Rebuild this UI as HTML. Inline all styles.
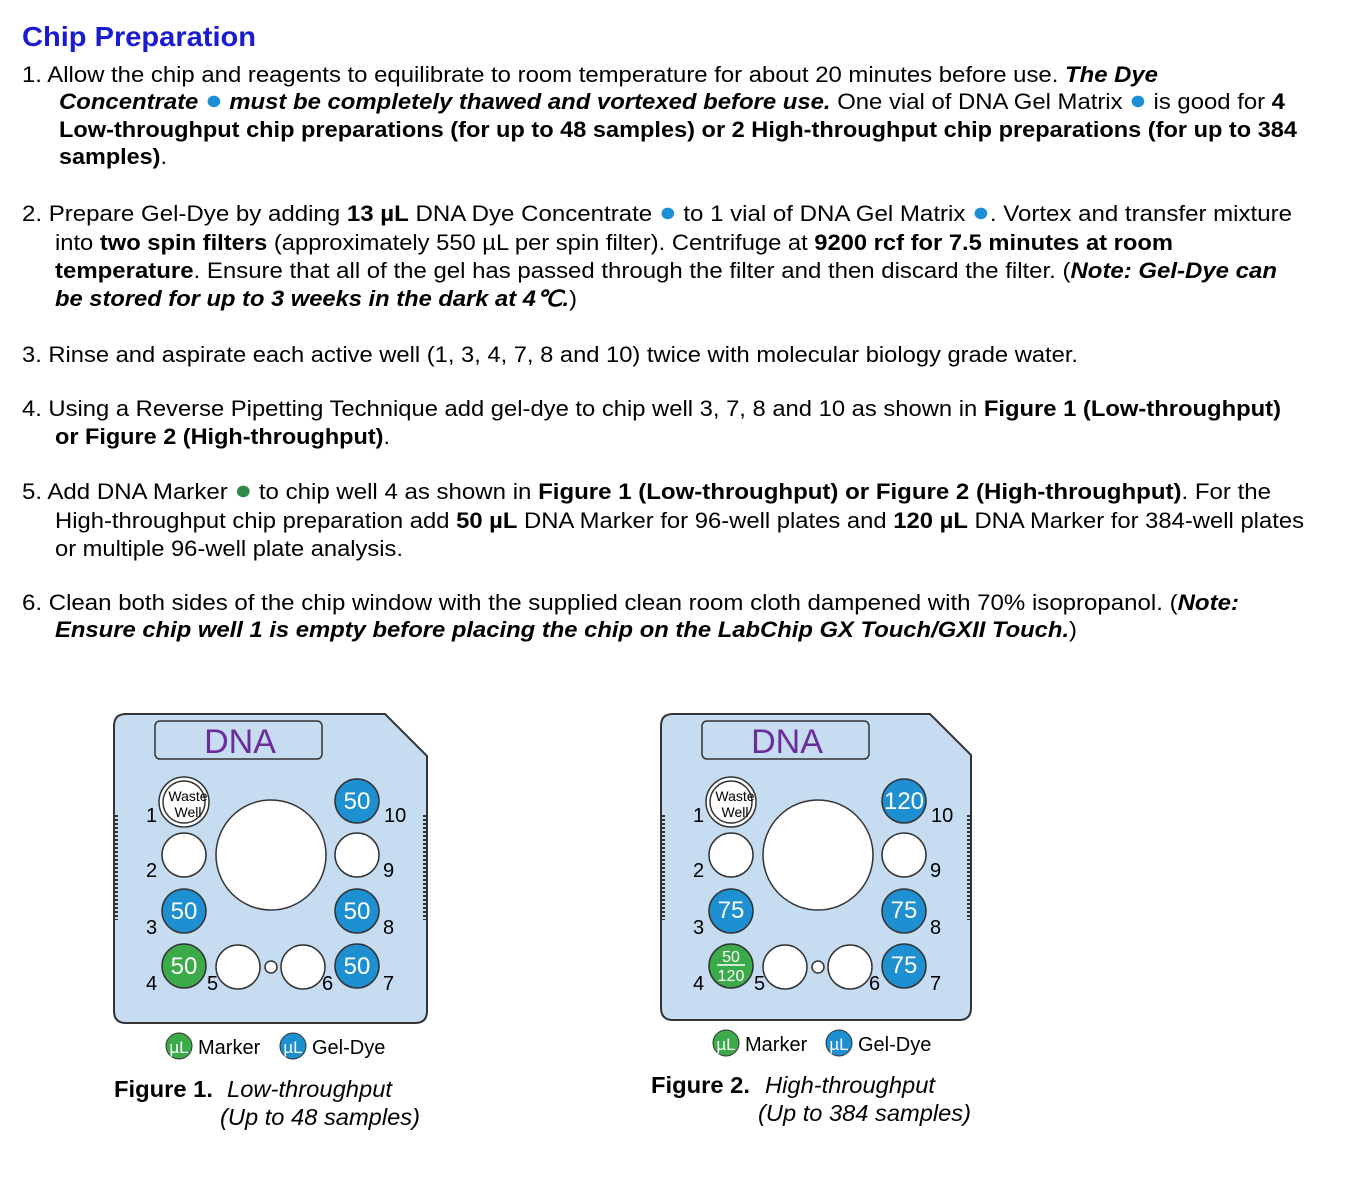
<!DOCTYPE html>
<html><head><meta charset="utf-8"><style>
html,body{margin:0;padding:0;background:#fff;}
svg{display:block;font-family:"Liberation Sans",sans-serif;}
.t{font-size:22px;fill:#000;}
.b{font-weight:bold;}
.i{font-style:italic;}
.bl{fill:#1e8fd6;font-size:27px;}
.gr{fill:#2e8a47;font-size:27px;}
</style></head><body>
<svg width="1354" height="1178" viewBox="0 0 1354 1178" xmlns="http://www.w3.org/2000/svg">
<text x="22" y="46" font-size="28" font-weight="bold" fill="#1a1ad0" textLength="234" lengthAdjust="spacingAndGlyphs">Chip Preparation</text>

<text class="t" x="22" y="82" textLength="1136" lengthAdjust="spacingAndGlyphs">1.  Allow the chip and reagents to equilibrate to room temperature for about 20 minutes before use.  <tspan class="b i">The Dye</tspan></text>
<text class="t" x="59" y="109" textLength="1226" lengthAdjust="spacingAndGlyphs"><tspan class="b i">Concentrate <tspan class="bl">●</tspan> must be completely thawed and vortexed before use.</tspan>  One vial of DNA Gel Matrix <tspan class="bl">●</tspan> is good for <tspan class="b">4</tspan></text>
<text class="t b" x="59" y="137" textLength="1238" lengthAdjust="spacingAndGlyphs">Low-throughput chip preparations (for up to 48 samples) or 2 High-throughput chip preparations (for up to 384</text>
<text class="t" x="59" y="164" textLength="108" lengthAdjust="spacingAndGlyphs"><tspan class="b">samples)</tspan>.</text>

<text class="t" x="22" y="221" textLength="1270" lengthAdjust="spacingAndGlyphs">2.  Prepare Gel-Dye by adding <tspan class="b">13 µL</tspan> DNA Dye Concentrate <tspan class="bl">●</tspan> to 1 vial of DNA Gel Matrix <tspan class="bl">●</tspan>.  Vortex and transfer mixture</text>
<text class="t" x="55" y="250" textLength="1118" lengthAdjust="spacingAndGlyphs">into <tspan class="b">two spin filters</tspan> (approximately 550 µL per spin filter).  Centrifuge at <tspan class="b">9200 rcf for 7.5 minutes at room</tspan></text>
<text class="t" x="55" y="278" textLength="1222" lengthAdjust="spacingAndGlyphs"><tspan class="b">temperature</tspan>.  Ensure that all of the gel has passed through the filter and then discard the filter.  (<tspan class="b i">Note:  Gel-Dye can</tspan></text>
<text class="t" x="55" y="306" textLength="522" lengthAdjust="spacingAndGlyphs"><tspan class="b i">be stored for up to 3 weeks in the dark at 4℃.</tspan>)</text>

<text class="t" x="22" y="362" textLength="1056" lengthAdjust="spacingAndGlyphs">3.  Rinse and aspirate each active well (1, 3, 4, 7, 8 and 10) twice with molecular biology grade water.</text>

<text class="t" x="22" y="416" textLength="1259" lengthAdjust="spacingAndGlyphs">4.  Using a Reverse Pipetting Technique add gel-dye to chip well 3, 7, 8 and 10 as shown in <tspan class="b">Figure 1 (Low-throughput)</tspan></text>
<text class="t" x="55" y="444" textLength="335" lengthAdjust="spacingAndGlyphs"><tspan class="b">or Figure 2 (High-throughput)</tspan>.</text>

<text class="t" x="22" y="499" textLength="1249" lengthAdjust="spacingAndGlyphs">5.  Add DNA Marker <tspan class="gr">●</tspan> to chip well 4 as shown in <tspan class="b">Figure 1 (Low-throughput) or Figure 2 (High-throughput)</tspan>.  For the</text>
<text class="t" x="55" y="528" textLength="1249" lengthAdjust="spacingAndGlyphs">High-throughput chip preparation add <tspan class="b">50 µL</tspan> DNA Marker for 96-well plates and <tspan class="b">120 µL</tspan> DNA Marker for 384-well plates</text>
<text class="t" x="55" y="556" textLength="348" lengthAdjust="spacingAndGlyphs">or multiple 96-well plate analysis.</text>

<text class="t" x="22" y="610" textLength="1217" lengthAdjust="spacingAndGlyphs">6.  Clean both sides of the chip window with the supplied clean room cloth dampened with 70% isopropanol.  (<tspan class="b i">Note:</tspan></text>
<text class="t" x="55" y="637" textLength="1022" lengthAdjust="spacingAndGlyphs"><tspan class="b i">Ensure chip well 1 is empty before placing the chip on the LabChip GX Touch/GXII Touch.</tspan>)</text>

<defs>
<g id="wells">
<line x1="116" y1="815" x2="116" y2="920" stroke="#333" stroke-width="4" stroke-dasharray="2 2"/>
<rect x="155" y="721" width="167" height="38" rx="5" fill="#c6dcf1" stroke="#333" stroke-width="1.5"/>
<text x="240" y="753" font-size="34" fill="#6a2d9a" text-anchor="middle">DNA</text>
<circle cx="184" cy="802" r="25" fill="#fff" stroke="#333" stroke-width="1.5"/>
<circle cx="184" cy="802" r="21" fill="#fff" stroke="#333" stroke-width="1.5"/>
<text x="188" y="801" font-size="14" text-anchor="middle">Waste</text>
<text x="188" y="817" font-size="14" text-anchor="middle">Well</text>
<circle cx="271" cy="855" r="55" fill="#fff" stroke="#333" stroke-width="1.5"/>
<circle cx="184" cy="855" r="22" fill="#fff" stroke="#333" stroke-width="1.5"/>
<circle cx="357" cy="855" r="22" fill="#fff" stroke="#333" stroke-width="1.5"/>
<circle cx="238" cy="967" r="22" fill="#fff" stroke="#333" stroke-width="1.5"/>
<circle cx="303" cy="967" r="22" fill="#fff" stroke="#333" stroke-width="1.5"/>
<circle cx="271" cy="967" r="6" fill="#fff" stroke="#333" stroke-width="1.5"/>
<circle cx="184" cy="911" r="22" fill="#1e8fd0" stroke="#333" stroke-width="1.5"/>
<circle cx="184" cy="966" r="22" fill="#3bab4a" stroke="#333" stroke-width="1.5"/>
<circle cx="357" cy="801" r="22" fill="#1e8fd0" stroke="#333" stroke-width="1.5"/>
<circle cx="357" cy="911" r="22" fill="#1e8fd0" stroke="#333" stroke-width="1.5"/>
<circle cx="357" cy="966" r="22" fill="#1e8fd0" stroke="#333" stroke-width="1.5"/>
<g font-size="20" fill="#000">
<text x="146" y="822">1</text><text x="146" y="877">2</text><text x="146" y="934">3</text><text x="146" y="990">4</text>
<text x="207" y="990">5</text><text x="322" y="990">6</text><text x="383" y="990">7</text><text x="383" y="934">8</text>
<text x="383" y="877">9</text><text x="384" y="822">10</text>
</g>
</g>
</defs>

<path d="M126,714 H385 L427,756 V1011 Q427,1023 415,1023 H126 Q114,1023 114,1011 V726 Q114,714 126,714 Z" fill="#c6dcf1" stroke="#333" stroke-width="2"/>
<line x1="425" y1="815" x2="425" y2="920" stroke="#333" stroke-width="4" stroke-dasharray="2 2"/>
<use href="#wells"/>
<g font-size="24" fill="#fff" text-anchor="middle">
<text x="184" y="919">50</text><text x="184" y="974">50</text>
<text x="357" y="809">50</text><text x="357" y="919">50</text><text x="357" y="974">50</text>
</g>
<circle cx="179" cy="1046" r="13" fill="#3bab4a" stroke="#333"/>
<text x="179" y="1053" font-size="17" fill="#fff" text-anchor="middle">µL</text>
<text x="198" y="1054" font-size="20">Marker</text>
<circle cx="293" cy="1046" r="13" fill="#1e8fd0" stroke="#333"/>
<text x="293" y="1053" font-size="17" fill="#fff" text-anchor="middle">µL</text>
<text x="312" y="1054" font-size="20">Gel-Dye</text>
<text x="114" y="1097" font-size="23" font-weight="bold" textLength="99" lengthAdjust="spacingAndGlyphs">Figure 1.</text>
<text x="227" y="1097" font-size="23" font-style="italic" textLength="165" lengthAdjust="spacingAndGlyphs">Low-throughput</text>
<text x="220" y="1125" font-size="23" font-style="italic" textLength="200" lengthAdjust="spacingAndGlyphs">(Up to 48 samples)</text>

<path d="M673,714 H930 L971,755 V1008 Q971,1020 959,1020 H673 Q661,1020 661,1008 V726 Q661,714 673,714 Z" fill="#c6dcf1" stroke="#333" stroke-width="2"/>
<line x1="969" y1="815" x2="969" y2="920" stroke="#333" stroke-width="4" stroke-dasharray="2 2"/>
<g transform="translate(547,0)"><use href="#wells"/></g>
<g font-size="24" fill="#fff" text-anchor="middle">
<text x="731" y="918">75</text>
<text x="904" y="809">120</text><text x="904" y="918">75</text><text x="904" y="973">75</text>
</g>
<text x="731" y="962" font-size="16" fill="#fff" text-anchor="middle">50</text>
<line x1="717" y1="965" x2="745" y2="965" stroke="#fff" stroke-width="1.5"/>
<text x="731" y="981" font-size="16" fill="#fff" text-anchor="middle">120</text>
<circle cx="726" cy="1043" r="13" fill="#3bab4a" stroke="#333"/>
<text x="726" y="1050" font-size="17" fill="#fff" text-anchor="middle">µL</text>
<text x="745" y="1051" font-size="20">Marker</text>
<circle cx="839" cy="1043" r="13" fill="#1e8fd0" stroke="#333"/>
<text x="839" y="1050" font-size="17" fill="#fff" text-anchor="middle">µL</text>
<text x="858" y="1051" font-size="20">Gel-Dye</text>
<text x="651" y="1093" font-size="23" font-weight="bold" textLength="99" lengthAdjust="spacingAndGlyphs">Figure 2.</text>
<text x="765" y="1093" font-size="23" font-style="italic" textLength="170" lengthAdjust="spacingAndGlyphs">High-throughput</text>
<text x="758" y="1121" font-size="23" font-style="italic" textLength="213" lengthAdjust="spacingAndGlyphs">(Up to 384 samples)</text>
</svg>
</body></html>
